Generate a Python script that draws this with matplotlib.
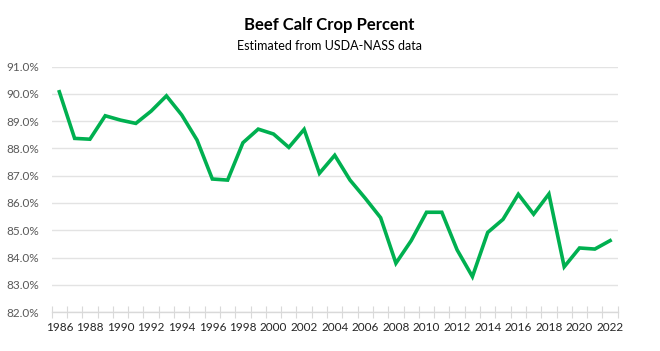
import matplotlib
matplotlib.use("Agg")
import matplotlib.pyplot as plt
import numpy as np
from matplotlib.ticker import FuncFormatter, FixedLocator

plt.rcParams['font.family'] = ['Lato', 'DejaVu Sans']

years = list(range(1986, 2023))
calf_crop_pct = [90.08, 88.37, 88.34, 89.20, 89.04, 88.92, 89.37, 89.93, 89.23, 88.31,
                 86.88, 86.84, 88.21, 88.71, 88.53, 88.04, 88.70, 87.09, 87.75, 86.84,
                 86.17, 85.46, 83.79, 84.62, 85.66, 85.66, 84.28, 83.30, 84.92, 85.40,
                 86.32, 85.59, 86.33, 83.66, 84.35, 84.31, 84.62]
y_ticks = [82, 83, 84, 85, 86, 87, 88, 89, 90, 91]
title = "Beef Calf Crop Percent"
subtitle = "Estimated from USDA-NASS data"

fig = plt.figure(figsize=(6.6, 3.51), dpi=100)
ax = fig.add_axes([0.0783, 0.111, 0.936 - 0.0783, 0.81 - 0.111])

x = np.arange(len(years))
ax.plot(x, calf_crop_pct, color='#00B050', linewidth=2.6, solid_joinstyle='miter', zorder=3)

ax.set_xlim(-0.5, len(years) - 0.5)
ax.set_ylim(82, 91)
ax.set_yticks(y_ticks)
ax.yaxis.set_major_formatter(FuncFormatter(lambda v, p: f"{v:.1f}%"))
ax.grid(axis='y', color='#e3e3e3', linewidth=1.0, zorder=0)
ax.tick_params(axis='y', length=0, pad=9, labelsize=8.5, labelcolor='#595959')

# category boundary ticks (major, no labels) and labels at category centers (minor)
ax.xaxis.set_major_locator(FixedLocator(np.arange(-0.5, len(years), 1.0)))
ax.xaxis.set_major_formatter(FuncFormatter(lambda v, p: ""))
label_pos = [i for i, yr in enumerate(years) if yr % 2 == 0]
ax.xaxis.set_minor_locator(FixedLocator(label_pos))
ax.set_xticklabels([str(years[i]) for i in label_pos], minor=True)
ax.tick_params(axis='x', which='major', direction='inout', length=8, width=0.8, color='#d9d9d9')
ax.tick_params(axis='x', which='minor', length=0, pad=7, labelsize=8.5, labelcolor='#262626')

for s in ['top', 'right', 'left']:
    ax.spines[s].set_visible(False)
ax.spines['bottom'].set_color('#d9d9d9')
ax.spines['bottom'].set_linewidth(1.0)

fig.text(0.4985, 1 - 25/351, title, ha='center', va='center', fontsize=12, fontweight='bold', color='black')
fig.text(0.4985, 1 - 46/351, subtitle, ha='center', va='center', fontsize=9, color='black')

fig.savefig('out.png', dpi=100)
